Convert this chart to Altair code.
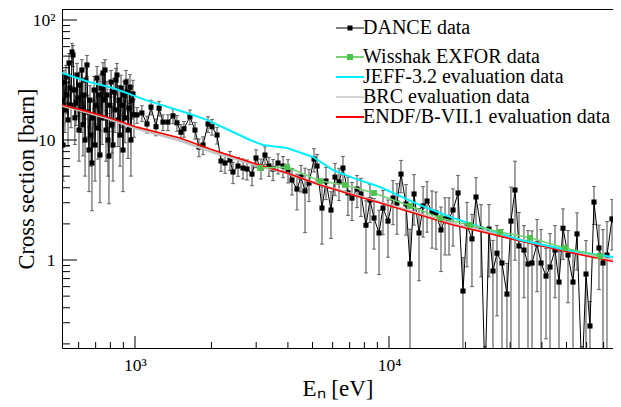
import altair as alt
import pandas as pd

FONT = "Liberation Serif"

# ---------------- data ----------------
# DANCE data: neutron energy (eV), cross section (barn), relative uncertainty
dance_e = [516, 521, 525, 530, 535, 540, 545, 550, 555, 560, 565, 570, 575, 580, 586, 591, 596, 602, 607, 613,
           618, 624, 630, 636, 641, 647, 653, 659, 665, 671, 677, 684, 690, 696, 702, 709, 715, 722, 728, 735,
           742, 748, 755, 762, 769, 776, 783, 790, 797, 805, 812, 819, 827, 834, 842, 849, 857, 865, 873, 881,
           889, 897, 905, 913, 922, 930, 939, 947, 956, 964, 973, 982, 991,
           1018, 1065, 1115, 1156, 1210, 1244, 1289, 1348, 1411, 1463, 1517, 1559, 1646, 1723, 1786, 1853, 1939,
           2010, 2104, 2181, 2262, 2366, 2431, 2544, 2663, 2761, 2889, 2996, 3133, 3249, 3369, 3495, 3657, 3827,
           4004, 4151, 4343, 4504, 4671, 4843, 5068, 5208, 5448, 5650, 5911,
           6130, 6357, 6590, 6896, 7151, 7483, 7757, 8117, 8420, 8731, 9137, 9472, 9912, 10370, 10750, 11150,
           11670, 12100, 12550, 13130, 13620, 14120, 14770, 15310, 16020, 16620, 17230, 17870, 18700, 19560,
           20280, 21220, 22010, 23030, 23880, 24760, 25670, 26620, 27850, 29140, 30220, 31340, 32500, 34000,
           35260, 36570, 38270, 39680, 41520, 43050, 45050, 46710, 48430, 50680, 53020, 54990, 57530, 59660,
           61850, 64140, 67110, 69590, 72160, 75510, 78300, 81180]
dance_xs = [21.5, 9.09, 30.4, 17.8, 33.5, 23.7, 14.7, 43.8, 27.1, 19.5, 54.1, 51.1, 26.1, 15.3, 20.3, 34.8, 22.4,
            12.1, 28.7, 17.8, 38.3, 13.4, 23.7, 10.0, 31.6, 42.2, 17.1, 8.25, 21.5, 11.0, 6.43, 15.3, 26.1, 9.09,
            19.5, 32.8, 12.6, 23.7, 7.5, 27.1, 15.3, 36.2, 21.5, 38.3, 12.1, 23.7, 10.0, 7.35, 19.5, 30.4, 13.4,
            9.09, 25.1, 17.8, 31.6, 34.8, 14.7, 21.5, 11.0, 27.1, 19.5, 8.25, 23.7, 15.3, 30.4, 25.1, 12.1, 18.4,
            27.6, 10.0, 21.5, 24.2, 16.2,
            16.2, 16.8, 13.6, 18.8, 12.9, 18.4, 14.1, 14.1, 15.9, 13.9, 11.6, 12.4, 15.6, 12.1, 8.74, 9.09, 13.6,
            12.9, 11.0, 6.68, 6.43, 6.81, 5.41, 6.07, 5.84, 5.73, 5.2, 7.08, 5.84, 7.5, 6.07, 5.73, 6.43, 6.07,
            5.62, 4.64, 3.9, 4.91, 3.76, 4.38, 6.94, 6.07, 2.71, 4.55, 2.61,
            4.91, 4.47, 5.84, 3.62, 3.28, 3.9, 3.55, 1.95, 3.16, 2.24, 1.68, 2.71, 2.11, 3.28, 2.98, 5.2, 2.93,
            0.926, 3.55, 1.68, 2.82, 3.1, 2.51, 2.46, 1.78, 2.2, 2.2, 2.61, 3.62, 0.551, 1.95, 1.5, 3.35, 1.81,
            0.1, 1.81, 0.81, 1.14, 0.944, 0.52, 2.11, 3.83, 1.31, 1.21, 0.926, 0.944, 1.36, 0.944, 0.735, 0.874,
            1.21, 0.655, 1.84, 1.1, 0.655, 1.65, 0.1, 0.764, 0.282, 3.04, 1.26, 0.944, 1.1, 2.2, 1.71, 1.39]
dance_rel_err = [.3, .5, .25, .35, .25, .3, .4, .2, .3, .35, .18, .2, .3, .4, .35, .25, .3, .45, .28, .35,
                 .22, .45, .3, .5, .25, .2, .38, .55, .32, .45, .6, .4, .3, .5, .35, .25, .45, .3, .6, .3,
                 .4, .22, .32, .22, .45, .3, .5, .6, .35, .25, .42, .5, .3, .35, .25, .25, .4, .32, .45, .28,
                 .35, .55, .3, .38, .25, .28, .42, .35, .27, .5, .3, .3, .35,
                 .15, .15, .16, .14, .16, .14, .15, .15, .14, .15, .16, .15, .14, .16, .17, .17, .15, .15, .16,
                 .18, .18, .18, .2, .18, .19, .19, .2, .17, .19, .17, .18, .2, .19, .2, .22, .25, .33, .25, .55,
                 .3, .22, .25, .5, .3, .42,
                 .3, .3, .25, .35, .35, .3, .35, .6, .35, .45, .55, .4, .5, .4, .45, .3, .45, .95, .45, .6,
                 .45, .45, .5, .5, .55, .5, .5, .5, .4, .9, .55, .6, .45, .6, .9, .6, .8, .7, .9, .8,
                 .92, .74, .9, .6, .9, .85, .6, .9, .7, .9, .6, .8, .45, .6, .75, .5, .9, .9, .6, .35,
                 .55, .9, .9, .45, .55, .6]

wisshak_e = [3105, 3967, 5350, 6710, 8730, 12100, 15880, 20840, 27350, 35910, 49320, 67720]
wisshak_xs = [5.84, 5.95, 4.55, 4.22, 3.62, 2.82, 2.24, 1.96, 1.71, 1.53, 1.26, 1.08]

jeff_e = [516, 659, 819, 1105, 1602, 1920, 2431, 2837, 3191, 3967, 5022, 6018, 7216, 9218, 13250, 17870,
          24310, 32790, 50220, 81180]
jeff_xs = [36.2, 30.4, 27.1, 21.5, 16.8, 14.7, 11.66, 10.0, 9.09, 8.58, 7.22, 5.62, 4.83, 4.06, 2.87, 2.24,
           1.81, 1.47, 1.21, 1.04]

brc_e = [516, 641, 790, 1018, 1503, 2028, 2914, 3967, 5350, 7216, 9820, 13250, 17870, 24310, 32790, 50220, 81180]
brc_xs = [19.3, 17.1, 15.0, 12.4, 9.9, 7.9, 6.3, 5.3, 4.25, 3.52, 2.92, 2.42, 2.01, 1.72, 1.48, 1.2, 0.97]

endf_e = [516, 641, 790, 1018, 1503, 2028, 2914, 3967, 5350, 7216, 9820, 13250, 17870, 24310, 32790, 50220, 81180]
endf_xs = [19.6, 17.4, 15.3, 12.8, 10.4, 8.25, 6.43, 5.31, 4.22, 3.48, 2.87, 2.37, 1.96, 1.68, 1.44, 1.17, 0.944]

x_major = [1000, 10000]
x_minor = [600, 700, 800, 900, 2000, 3000, 4000, 5000, 6000, 7000, 8000, 9000,
           20000, 30000, 40000, 50000, 60000, 70000]
y_major = [1, 10, 100]
y_minor = [0.2, 0.3, 0.4, 0.5, 0.6, 0.7, 0.8, 0.9, 2, 3, 4, 5, 6, 7, 8, 9,
           20, 30, 40, 50, 60, 70, 80, 90]

legend_names = ["DANCE data", "Wisshak EXFOR data", "JEFF-3.2 evaluation data", "BRC evaluation data",
                "ENDF/B-VII.1 evaluation data"]

# ---------------- styling ----------------
W, H = 551, 339
xscale = alt.Scale(type="log", domain=[516, 76200], nice=False)
yscale = alt.Scale(type="log", domain=[0.1848, 123.5], nice=False)

C_JEFF = "#00f0ff"
C_BRC = "#c4c4c4"
C_ENDF = "#ff0000"
C_WISS = "#4cc44c"
C_WISS_LINE = "#70d470"

dance = pd.DataFrame({"E": dance_e, "xs": dance_xs, "r": dance_rel_err})
dance["lo"] = (dance["xs"] * (1 - dance["r"])).clip(lower=0.01)
dance["hi"] = dance["xs"] * (1 + dance["r"])
caps = pd.concat([
    pd.DataFrame({"E": dance["E"], "v": dance["lo"]}),
    pd.DataFrame({"E": dance["E"], "v": dance["hi"]}),
])

x_axis = alt.Axis(values=x_major, labelExpr="datum.value < 5000 ? '10³' : '10⁴'",
                  ticks=False, domain=True, domainColor="black", domainWidth=1, grid=False,
                  labelFont=FONT, labelFontSize=17.5, labelPadding=8, labelColor="black",
                  title="Eₙ [eV]", titleFont=FONT, titleFontSize=23, titleFontWeight="normal",
                  titleColor="black", titleY=47, titleBaseline="alphabetic")
y_axis = alt.Axis(values=y_major,
                  labelExpr="datum.value > 50 ? '10²' : (datum.value > 5 ? '10' : '1')",
                  ticks=False, domain=True, domainColor="black", domainWidth=1, grid=False,
                  labelFont=FONT, labelFontSize=17.5, labelPadding=7, labelColor="black",
                  title="Cross section [barn]", titleFont=FONT, titleFontSize=22.5,
                  titleFontWeight="normal", titleColor="black", titleX=-29,
                  titleBaseline="alphabetic")


def X(field):
    return alt.X(field, scale=xscale, axis=x_axis)


def Y(field):
    return alt.Y(field, scale=yscale, axis=y_axis)


base = alt.Chart(dance)
err_rules = base.mark_rule(color="#444444", strokeWidth=1, clip=True).encode(
    x=X("E:Q"), y=Y("lo:Q"), y2="hi:Q",
)
err_caps = alt.Chart(caps).mark_tick(color="#333333", orient="horizontal", size=4, thickness=1,
                                     clip=True).encode(x=X("E:Q"), y=Y("v:Q"))
dance_line = base.mark_line(color="black", strokeWidth=1, clip=True).encode(x=X("E:Q"), y=Y("xs:Q"))
dance_pts = base.mark_square(color="black", size=26, opacity=1, clip=True).encode(x=X("E:Q"), y=Y("xs:Q"))


def curve(e, xs, color, width):
    df = pd.DataFrame({"E": e, "xs": xs})
    return alt.Chart(df).mark_line(color=color, strokeWidth=width, clip=True).encode(
        x=X("E:Q"), y=Y("xs:Q"))


brc = curve(brc_e, brc_xs, C_BRC, 2.5)
endf = curve(endf_e, endf_xs, C_ENDF, 1.6)
jeff = curve(jeff_e, jeff_xs, C_JEFF, 2)
wiss_line = curve(wisshak_e, wisshak_xs, C_WISS_LINE, 1.5)
wiss_pts = alt.Chart(pd.DataFrame({"E": wisshak_e, "xs": wisshak_xs})).mark_square(
    color=C_WISS, size=34, opacity=1, clip=True).encode(x=X("E:Q"), y=Y("xs:Q"))


def ticks_x(vals, length):
    return alt.Chart(pd.DataFrame({"v": vals})).mark_rule(color="black", strokeWidth=1, clip=True).encode(
        x=X("v:Q"), y=alt.value(H), y2=alt.value(H - length),
    )


def ticks_y(vals, length):
    return alt.Chart(pd.DataFrame({"v": vals})).mark_rule(color="black", strokeWidth=1, clip=True).encode(
        y=Y("v:Q"), x=alt.value(0), x2=alt.value(length),
    )


# top edge of the frame
top_frame = alt.Chart(pd.DataFrame({"k": [0]})).mark_rule(color="black", strokeWidth=1).encode(
    x=alt.value(0), x2=alt.value(W), y=alt.value(0.5),
)

# legend: one entry per legend so each row sits where the reference puts it
P_DANCE = "M-2.8,-0.1H2.8V0.1H-2.8Z M-0.5,-0.5H0.5V0.5H-0.5Z"
P_WISS = "M-2.8,-0.15H2.8V0.15H-2.8Z M-0.6,-0.6H0.6V0.6H-0.6Z"
P_THICK = "M-2.8,-0.2H2.8V0.2H-2.8Z"
P_MID = "M-2.8,-0.15H2.8V0.15H-2.8Z"
legend_colors = ["black", C_WISS, C_JEFF, C_BRC, C_ENDF]
legend_paths = [P_DANCE, P_WISS, P_THICK, P_MID, P_THICK]
legend_rows_y = [9, 38, 58, 78, 98]


def leg(ly):
    return alt.Legend(title=None, orient="none", legendX=278, legendY=ly, padding=0,
                      labelFont=FONT, labelFontSize=20, labelColor="black", labelLimit=400,
                      labelOffset=3, symbolSize=100, symbolStrokeWidth=0, symbolOpacity=1)


legend_layers = []
for name, col, path, ly in zip(legend_names, legend_colors, legend_paths, legend_rows_y):
    legend_layers.append(
        alt.Chart(pd.DataFrame({"series": [name]})).mark_point(filled=True, clip=True).encode(
            x=alt.value(-500), y=alt.value(-500),
            color=alt.Color("series:N", scale=alt.Scale(domain=[name], range=[col]), legend=leg(ly)),
            shape=alt.Shape("series:N", scale=alt.Scale(domain=[name], range=[path]), legend=leg(ly)),
        )
    )

chart = alt.layer(
    err_rules, err_caps, dance_line, dance_pts,
    brc, endf, jeff, wiss_line, wiss_pts,
    ticks_x(x_major, 12), ticks_x(x_minor, 6), ticks_y(y_major, 15), ticks_y(y_minor, 8),
    top_frame, *legend_layers,
).resolve_scale(color="independent", shape="independent").properties(
    width=W, height=H,
    autosize=alt.AutoSizeParams(type="none"),
    padding={"left": 54, "top": 1, "right": 0, "bottom": 56},
    background="white",
).configure_view(stroke=None).configure(font=FONT)

chart.save("out.html", embed_options={"renderer": "svg", "actions": False})
